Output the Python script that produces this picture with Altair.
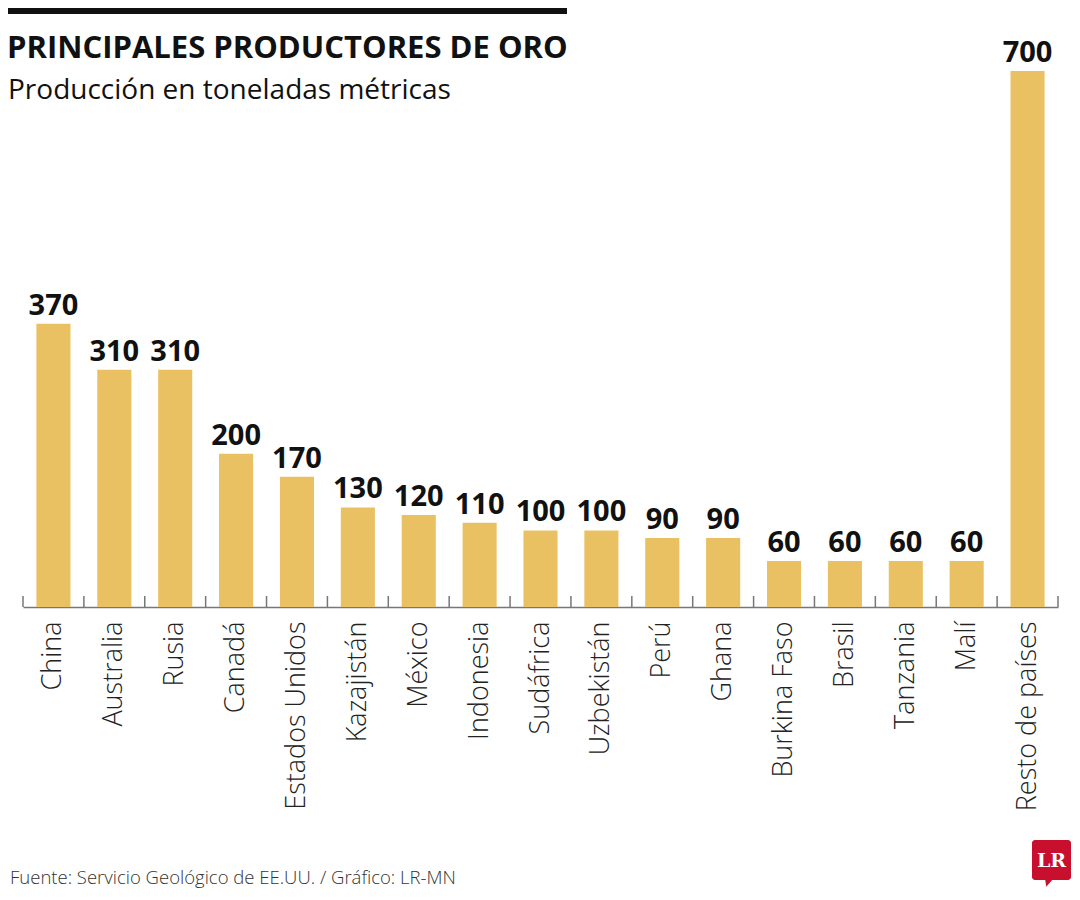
import altair as alt
import pandas as pd

paises = ["China", "Australia", "Rusia", "Canadá", "Estados Unidos", "Kazajistán",
          "México", "Indonesia", "Sudáfrica", "Uzbekistán", "Perú", "Ghana",
          "Burkina Faso", "Brasil", "Tanzania", "Malí", "Resto de países"]
produccion = [370, 310, 310, 200, 170, 130, 120, 110, 100, 100, 90, 90, 60, 60, 60, 60, 700]

titulo = "PRINCIPALES PRODUCTORES DE ORO"
subtitulo = "Producción en toneladas métricas"
fuente = "Fuente: Servicio Geológico de EE.UU. / Gráfico: LR-MN"

df = pd.DataFrame({"pais": paises, "valor": produccion})

W = 1035
H = 536
STEP = W / len(paises)
FONT = "Open Sans"
BAR = "#EAC162"

xenc = alt.X("pais:N", sort=None,
             scale=alt.Scale(paddingInner=0.44, paddingOuter=0.22),
             axis=alt.Axis(title=None, ticks=False, domainColor="#777777", domainWidth=1.5,
                           labelFont=FONT, labelFontSize=27, labelFontWeight=300,
                           labelColor="#222222", labelAngle=270, labelAlign="right",
                           labelBaseline="middle", labelPadding=14, labelLimit=400))
yenc = alt.Y("valor:Q", scale=alt.Scale(domain=[0, 700]), axis=None)

base = alt.Chart(df)
bars = base.mark_bar(color=BAR).encode(x=xenc, y=yenc)
labels = base.mark_text(font=FONT, fontSize=29, fontWeight="bold", color="#111111",
                        baseline="bottom", dy=-3).encode(x=xenc, y=yenc, text="valor:Q")
ticks = base.mark_rule(color="#777777", strokeWidth=1.5, xOffset=-STEP / 2).encode(
    x=xenc, y=alt.value(H - 11), y2=alt.value(H))

one = alt.Chart(pd.DataFrame({"k": [0]}))
last_tick = one.mark_rule(color="#777777", strokeWidth=1.5).encode(
    x=alt.value(W), y=alt.value(H - 11), y2=alt.value(H))
topbar = one.mark_rect(color="#111111").encode(
    x=alt.value(-15), x2=alt.value(544), y=alt.value(-63), y2=alt.value(-57))
t1 = one.mark_text(text=titulo, font=FONT, fontSize=31, fontWeight="bold", color="#111111",
                   align="left", baseline="alphabetic").encode(x=alt.value(-16), y=alt.value(-13))
t2 = one.mark_text(text=subtitulo, font=FONT, fontSize=28, color="#111111",
                   align="left", baseline="alphabetic").encode(x=alt.value(-15), y=alt.value(28))
t3 = one.mark_text(text=fuente, font=FONT, fontSize=18.5, fontWeight=300, color="#333333",
                   align="left", baseline="alphabetic").encode(x=alt.value(-13), y=alt.value(813))
logo = one.mark_rect(color="#C8102E", cornerRadius=3).encode(
    x=alt.value(1009), x2=alt.value(1048), y=alt.value(769), y2=alt.value(809))
tail = one.mark_point(shape="M -1 -1 L 1 -1 L -0.7 1 Z", filled=True, opacity=1,
                      color="#C8102E", size=60).encode(x=alt.value(1026), y=alt.value(812))
logo_t = one.mark_text(text="LR", font="DejaVu Serif", fontSize=19, fontWeight="bold",
                       color="white", align="center", baseline="middle").encode(
    x=alt.value(1028.5), y=alt.value(790))

chart = alt.layer(bars, ticks, last_tick, labels, topbar, t1, t2, t3, logo, tail, logo_t).properties(
    width=W, height=H, autosize=alt.AutoSizeParams(type="none"), background="white",
    padding={"left": 15, "top": 63, "right": 14, "bottom": 290}
).configure_view(strokeWidth=0)

chart.save("out.html", embed_options={"renderer": "svg", "actions": False})
